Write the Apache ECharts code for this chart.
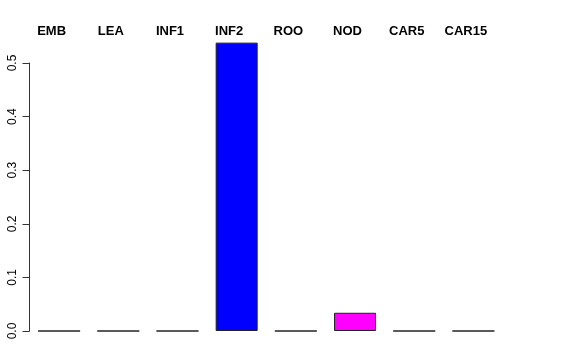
<!DOCTYPE html>
<html><head><meta charset="utf-8">
<script src="https://cdn.jsdelivr.net/npm/echarts@6/dist/echarts.min.js"></script>
<style>html,body{margin:0;padding:0;background:#fff}#c{width:576px;height:360px}</style>
</head><body><div id="c"></div>
<script>
var categories = ['EMB','LEA','INF1','INF2','ROO','NOD','CAR5','CAR15'];
var values = [0, 0, 0, 0.538, 0, 0.034, 0, 0];
var colors = ['#ffffff','#ffffff','#ffffff','#0000ff','#ffffff','#ff00ff','#ffffff','#ffffff'];
var yTicks = [0, 0.1, 0.2, 0.3, 0.4, 0.5];

var chart = echarts.init(document.getElementById('c'), null, {renderer:'canvas'});
chart.setOption({
  animation: false,
  backgroundColor: '#fff',
  grid: {left: 29.5, right: 73, top: 63, bottom: 29, containLabel: false},
  xAxis: {
    type: 'category', data: categories, position: 'top',
    axisLine: {show: false}, axisTick: {show: false}, splitLine: {show: false},
    axisLabel: {fontFamily: 'Liberation Sans, Arial, sans-serif', fontWeight: 'bold', fontSize: 13,
      color: '#000', margin: 25, padding: [0, 15, 0, 0], interval: 0}
  },
  yAxis: {
    type: 'value', min: 0, max: 0.5, interval: 0.1,
    axisLine: {show: true, lineStyle: {color: '#333', width: 1}},
    axisTick: {show: true, length: 7, lineStyle: {color: '#333'}},
    splitLine: {show: false},
    axisLabel: {rotate: 90, margin: 11, fontFamily: 'Liberation Sans, Arial, sans-serif', fontSize: 12, color: '#000',
      formatter: function(v){ return yTicks.indexOf(Math.round(v*10)/10) >= 0 ? v.toFixed(1) : ''; }}
  },
  series: [{
    type: 'bar', barWidth: 42, clip: false,
    data: values.map(function(v, i){ return {value: v, itemStyle: {color: colors[i]}}; }),
    itemStyle: {borderColor: '#222', borderWidth: 1}
  }]
});
</script></body></html>
